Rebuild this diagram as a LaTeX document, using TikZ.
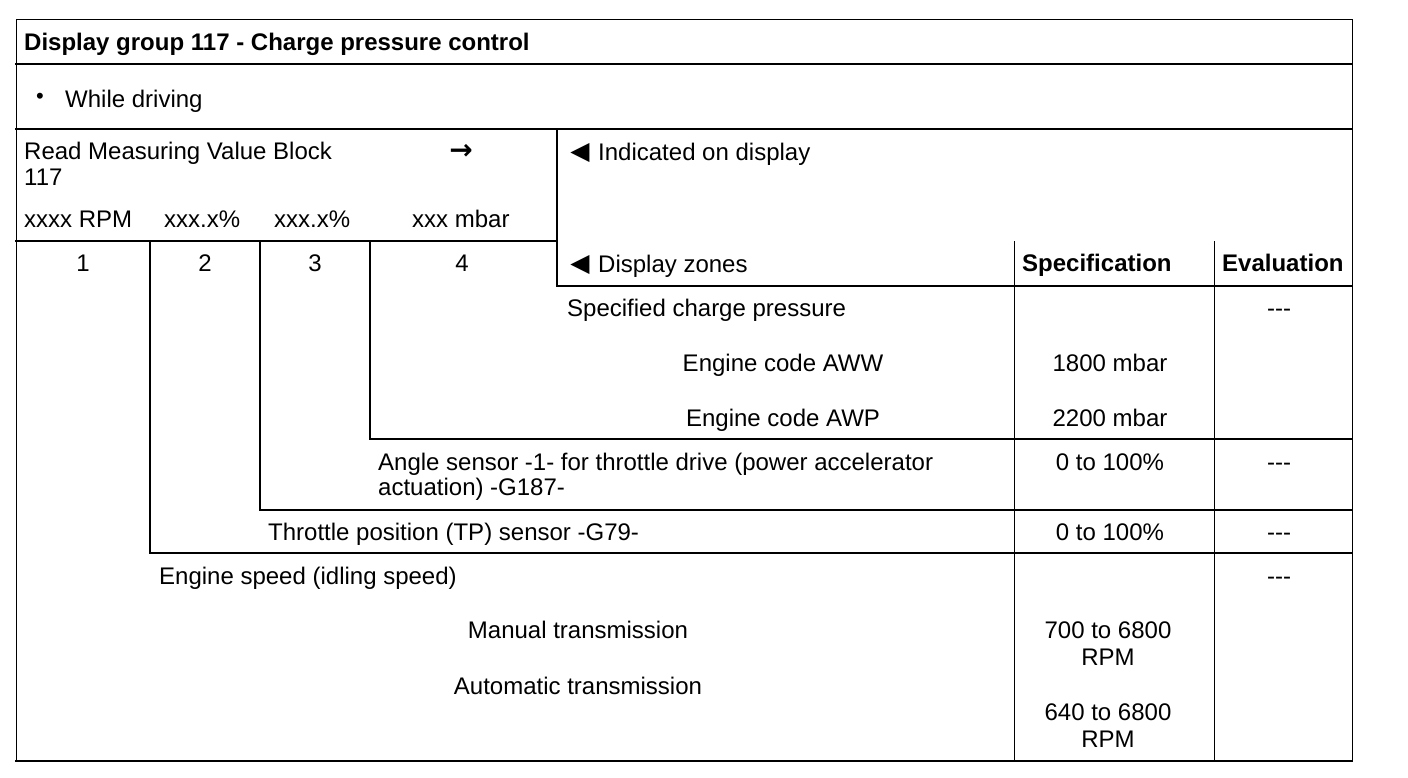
\documentclass[tikz,border=0pt]{standalone}
\usepackage{fontspec}
\setmainfont{Liberation Sans}
\newfontfamily\symfont{DejaVu Sans}
\begin{document}
\begin{tikzpicture}[x=1pt,y=-1pt,
  rulethin/.style={line width=1pt, line cap=rect},
  rulemid/.style={line width=1.5pt, line cap=rect},
  rulethick/.style={line width=2pt, line cap=rect},
  txt/.style={inner sep=0pt, anchor=base west, font=\fontsize{24}{25}\selectfont},
  ctxt/.style={inner sep=0pt, anchor=base, font=\fontsize{24}{25}\selectfont},
  btxt/.style={inner sep=0pt, anchor=base west, font=\fontsize{24}{25}\selectfont\bfseries},
  ptr/.style={inner sep=0pt, anchor=base, font=\fontsize{25}{25}\selectfont\symfont}]
\useasboundingbox (0,0) rectangle (1408,778);
% rules
\draw[rulethin] (16,20) -- (1352,20);
\draw[rulethin] (16,20) -- (16,761);
\draw[rulethin] (1352,20) -- (1352,761);
\draw[rulethin] (1014,241) -- (1014,761);
\draw[rulethin] (1214,241) -- (1214,761);
\draw[rulethick] (16,64) -- (1352,64);
\draw[rulethick] (16,129) -- (1352,129);
\draw[rulethick] (16,241) -- (557,241);
\draw[rulethick] (557,129) -- (557,286) -- (1352,286);
\draw[rulemid] (370,241) -- (370,439);
\draw[rulemid] (260,241) -- (260,510);
\draw[rulemid] (150,241) -- (150,553);
\draw[rulethick] (370,439) -- (1352,439);
\draw[rulethick] (260,510) -- (1352,510);
\draw[rulethick] (150,553) -- (1352,553);
\draw[rulethick] (16,761) -- (1352,761);
% texts
\node[btxt] (title) at (24,51) {Display group 117 - Charge pressure control};
\node[inner sep=0pt, anchor=base, font=\fontsize{22}{22}\selectfont] (bul) at (40,104) {•};
\node[txt] (drv) at (65,108) {While driving};
\node[txt] (rmvb) at (24,160) {Read Measuring Value Block};
\node[txt] (blk) at (24,186) {117};
\node[inner sep=0pt, anchor=base, font=\fontsize{28}{28}\selectfont\symfont\bfseries] (arr) at (461,160) {→};
\node[txt] (f1) at (24,228) {xxxx RPM};
\node[txt] (f2) at (164,228) {xxx.x\%};
\node[txt] (f3) at (274,228) {xxx.x\%};
\node[txt] (f4) at (412,228) {xxx mbar};
\node[ctxt] (n1) at (83,271) {1};
\node[ctxt] (n2) at (205,271) {2};
\node[ctxt] (n3) at (315,271) {3};
\node[ctxt] (n4) at (462,271) {4};
\node[ptr] (p1) at (580,160) {◀};
\node[txt] (ind) at (598,161) {Indicated on display};
\node[ptr] (p2) at (580,271) {◀};
\node[txt] (dz) at (598,272) {Display zones};
\node[btxt] (spec) at (1022,271) {Specification};
\node[btxt] (eval) at (1222,271) {Evaluation};
\node[txt] (scp) at (567,316) {Specified charge pressure};
\node[ctxt] (aww) at (783,371) {Engine code AWW};
\node[ctxt] (awp) at (783,426) {Engine code AWP};
\node[ctxt] (v1) at (1110,371) {1800 mbar};
\node[ctxt] (v2) at (1110,426) {2200 mbar};
\node[ctxt] (e1) at (1279,316) {-{}-{}-};
\node[txt] (ang1) at (378,470) {Angle sensor -1- for throttle drive (power accelerator};
\node[txt] (ang2) at (378,495) {actuation) -G187-};
\node[ctxt] (v3) at (1110,470) {0 to 100\%};
\node[ctxt] (e2) at (1279,470) {-{}-{}-};
\node[txt] (tps) at (268,540) {Throttle position (TP) sensor -G79-};
\node[ctxt] (v4) at (1110,540) {0 to 100\%};
\node[ctxt] (e3) at (1279,540) {-{}-{}-};
\node[txt] (es) at (159,584) {Engine speed (idling speed)};
\node[ctxt] (e4) at (1279,584) {-{}-{}-};
\node[ctxt] (man) at (578,638) {Manual transmission};
\node[ctxt] (aut) at (578,694) {Automatic transmission};
\node[ctxt] (v5) at (1108,638) {700 to 6800};
\node[ctxt] (v5b) at (1108,665) {RPM};
\node[ctxt] (v6) at (1108,720) {640 to 6800};
\node[ctxt] (v6b) at (1108,747) {RPM};
\end{tikzpicture}
\end{document}
